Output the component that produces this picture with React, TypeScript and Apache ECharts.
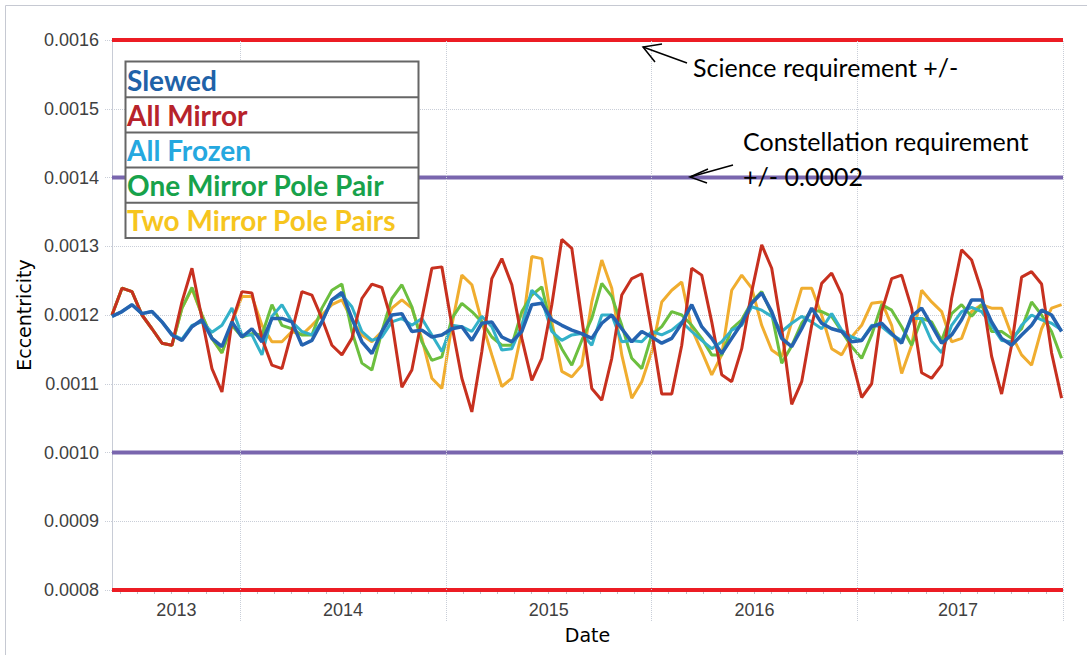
import React, { useEffect, useRef } from 'react';
import * as echarts from 'echarts';

// Sample grid (decimal years) – one reading roughly every 2.5 weeks
const START_YEAR = 2013.377;
const SAMPLE_STEP = 0.04859;

// Eccentricity values in units of 1e-4
const slewed = [
  11.98, 12.05, 12.15, 12.02, 12.05, 11.9, 11.71, 11.63, 11.83, 11.93, 11.66, 11.54, 11.9, 11.68, 11.8, 11.61, 11.95,
  11.95, 11.9, 11.56, 11.63, 11.9, 12.22, 12.33, 11.95, 11.61, 11.44, 11.76, 12.0, 12.02, 11.76, 11.78, 11.68,
  11.71, 11.8, 11.83, 11.63, 11.88, 11.9, 11.68, 11.61, 11.76, 12.15, 12.17, 11.93, 11.85, 11.78, 11.73, 11.66,
  11.88, 12.0, 11.8, 11.61, 11.76, 11.68, 11.59, 11.66, 11.88, 12.15, 11.83, 11.66, 11.44, 11.66, 11.88, 12.17,
  12.32, 12.05, 11.66, 11.54, 11.8, 12.1, 11.88, 11.8, 11.76, 11.61, 11.63, 11.83, 11.88, 11.73, 11.59, 11.98,
  12.1, 11.85, 11.59, 11.71, 11.93, 12.22, 12.22, 11.9, 11.66, 11.56, 11.71, 11.85, 12.07, 12.0, 11.76,
];
const allMirror = [
  12.0, 12.39, 12.34, 12.0, 11.8, 11.59, 11.56, 12.19, 12.68, 11.95, 11.22, 10.88, 11.9, 12.34, 12.32, 11.66, 11.27,
  11.22, 11.76, 12.34, 12.29, 11.95, 11.56, 11.42, 11.66, 12.24, 12.45, 12.4, 11.9, 10.95, 11.2, 11.95, 12.68,
  12.7, 11.85, 11.08, 10.59, 11.47, 12.53, 12.82, 12.44, 11.66, 11.05, 11.37, 12.15, 13.1, 12.97, 11.95, 10.93,
  10.76, 11.37, 12.29, 12.53, 12.6, 11.76, 10.85, 10.85, 11.56, 12.68, 12.58, 11.9, 11.13, 11.03, 11.51, 12.34,
  13.02, 12.68, 11.8, 10.7, 11.03, 11.85, 12.46, 12.61, 12.3, 11.37, 10.8, 11.0, 12.05, 12.53, 12.58, 12.1,
  11.16, 11.08, 11.27, 12.24, 12.95, 12.8, 12.35, 11.4, 10.85, 11.56, 12.55, 12.63, 12.45, 11.45, 10.79,
];
const allFrozen = [
  11.98, 12.05, 12.15, 12.02, 12.05, 11.9, 11.72, 11.65, 11.85, 11.9, 11.75, 11.85, 12.1, 11.71, 11.71, 11.42, 11.98,
  12.15, 11.9, 11.76, 11.71, 11.9, 12.22, 12.29, 12.12, 11.76, 11.63, 11.68, 11.9, 11.95, 11.85, 11.95, 11.71,
  11.47, 11.85, 11.83, 11.76, 11.98, 11.83, 11.49, 11.51, 11.85, 12.36, 12.22, 11.76, 11.63, 11.71, 11.73, 11.56,
  12.0, 12.0, 11.61, 11.63, 11.61, 11.76, 11.71, 11.78, 11.9, 11.76, 11.63, 11.51, 11.61, 11.78, 11.85, 12.12,
  12.07, 11.98, 11.76, 11.88, 11.98, 11.9, 11.8, 12.02, 11.78, 11.68, 11.63, 11.85, 11.83, 11.71, 11.63, 11.95,
  11.95, 11.62, 11.45, 11.85, 12.05, 12.11, 12.05, 11.85, 11.63, 11.61, 11.85, 12.0, 11.93, 11.88, 11.78,
];
const oneMirrorPolePair = [
  12.0, 12.39, 12.34, 12.0, 11.8, 11.59, 11.56, 12.1, 12.4, 12.0, 11.66, 11.45, 11.85, 11.68, 11.73, 11.71, 12.15,
  11.85, 11.8, 11.71, 11.71, 12.1, 12.36, 12.45, 11.76, 11.3, 11.2, 11.76, 12.24, 12.44, 12.12, 11.61, 11.34,
  11.39, 11.95, 12.17, 12.05, 11.9, 11.68, 11.56, 11.56, 12.05, 12.29, 12.41, 11.8, 11.51, 11.27, 11.63, 11.95,
  12.46, 12.27, 11.85, 11.37, 11.22, 11.71, 11.83, 12.05, 12.0, 11.85, 11.66, 11.42, 11.42, 11.8, 11.93, 12.19,
  12.34, 12.02, 11.3, 11.55, 11.88, 12.07, 12.05, 11.98, 11.76, 11.54, 11.37, 11.71, 12.15, 12.07, 11.83, 11.56,
  11.95, 11.9, 11.63, 12.02, 12.15, 11.98, 12.15, 11.76, 11.76, 11.66, 11.8, 12.19, 12.0, 11.76, 11.37,
];
const twoMirrorPolePairs = [
  12.0, 12.39, 12.34, 12.0, 11.8, 11.59, 11.56, 12.1, 12.38, 12.0, 11.66, 11.45, 11.9, 12.27, 12.27, 11.85, 11.61,
  11.61, 11.76, 11.71, 11.85, 12.0, 12.15, 12.22, 11.93, 11.71, 11.61, 11.76, 12.1, 12.22, 12.1, 11.66, 11.08,
  10.93, 11.85, 12.58, 12.44, 11.9, 11.42, 10.96, 11.08, 11.76, 12.85, 12.82, 11.9, 11.18, 11.1, 11.27, 12.19,
  12.8, 12.39, 11.42, 10.79, 11.03, 11.47, 12.19, 12.36, 12.48, 11.8, 11.47, 11.13, 11.42, 12.36, 12.58, 12.39,
  11.85, 11.49, 11.39, 11.9, 12.39, 12.39, 12.0, 11.51, 11.42, 11.68, 11.85, 12.17, 12.19, 11.85, 11.15, 11.56,
  12.36, 12.19, 12.05, 11.61, 11.66, 12.05, 12.15, 12.1, 12.1, 11.71, 11.42, 11.27, 11.8, 12.1, 12.15,
];

const legendNames = ['Slewed', 'All Mirror', 'All Frozen', 'One Mirror Pole Pair', 'Two Mirror Pole Pairs'];
const legendTextColors = ['#1F62A8', '#B7232B', '#25A8DF', '#17A24B', '#F6C51E'];

const yearLabels = ['2013', '2014', '2015', '2016', '2017'];
const yearLabelPositions = [2013.69, 2014.5, 2015.5, 2016.5, 2017.49];
const yearBoundaries = [2014, 2015, 2016, 2017, 2018];
const X_MIN = 2013.377;
const X_MAX = 2018.0;

const scienceLimits = [0.0016, 0.0008];
const constellationLimits = [0.0014, 0.001];

const monthTicks: number[] = [];
for (let y = 2013; y <= 2017; y++) {
  for (let m = 0; m < 12; m++) {
    const v = y + m / 12;
    if (v > X_MIN && v < X_MAX) monthTicks.push(v);
  }
}

const toPairs = (vals: number[]) => vals.map((v, i) => [START_YEAR + i * SAMPLE_STEP, v / 10000]);

export default function App() {
  const ref = useRef<HTMLDivElement>(null);
  useEffect(() => {
    if (!ref.current) return;
    const chart = echarts.init(ref.current, undefined, { renderer: 'svg' });
    const gridColor = '#c9ced8';
    const mkSeries = (name: string, vals: number[], color: string, z: number, width = 3): any => ({
      name,
      type: 'line',
      data: toPairs(vals),
      showSymbol: false,
      symbol: 'none',
      silent: true,
      z,
      lineStyle: { color, width },
      itemStyle: { color },
    });
    const limitSeries = (v: number, color: string): any => ({
      type: 'line',
      data: [
        [X_MIN, v],
        [X_MAX, v],
      ],
      symbol: 'none',
      showSymbol: false,
      silent: true,
      clip: false,
      z: 1,
      lineStyle: { color, width: 4 },
      itemStyle: { color },
    });
    const dataSeries = [
      mkSeries('Two Mirror Pole Pairs', twoMirrorPolePairs, '#F0AD2F', 2),
      mkSeries('One Mirror Pole Pair', oneMirrorPolePair, '#6CBF3F', 3),
      mkSeries('All Frozen', allFrozen, '#33B1C9', 4),
      mkSeries('All Mirror', allMirror, '#C7301F', 5),
      mkSeries('Slewed', slewed, '#2563B0', 6, 3.5),
    ];
    dataSeries[0].markLine = {
      silent: true,
      symbol: ['none', 'none'],
      label: { show: false },
      animation: false,
      data: yearBoundaries.map((x) => ({ xAxis: x, lineStyle: { color: gridColor, width: 1, type: 'dotted' } })),
    };

    const option: any = {
      animation: false,
      backgroundColor: '#ffffff',
      grid: { left: 112, right: 24, top: 40, bottom: 65 },
      legend: {
        orient: 'vertical',
        left: 122,
        top: 62,
        padding: 0,
        itemGap: 0,
        itemWidth: 0,
        itemHeight: 35,
        icon: 'none',
        selectedMode: false,
        z: 10,
        textStyle: { fontFamily: 'Lato', fontWeight: 'bold', fontSize: 28, lineHeight: 35 },
        data: legendNames.map((n, i) => ({ name: n, textStyle: { color: legendTextColors[i] } })),
      },
      xAxis: [
        {
          type: 'value',
          min: X_MIN,
          max: X_MAX,
          name: 'Date',
          nameLocation: 'middle',
          nameGap: 35,
          nameTextStyle: { fontFamily: 'DejaVu Sans', fontSize: 19, color: '#000' },
          axisLine: { show: false },
          axisTick: { show: true, customValues: monthTicks, length: 4, lineStyle: { color: '#b9bec8' } },
          axisLabel: {
            customValues: yearLabelPositions,
            margin: 11,
            fontFamily: 'Liberation Sans',
            fontSize: 18,
            color: '#404040',
            formatter: (v: number) => {
              const idx = yearLabelPositions.findIndex((p) => Math.abs(p - v) < 1e-6);
              return idx >= 0 ? yearLabels[idx] : '';
            },
          },
          splitLine: { show: false },
        },
        {
          type: 'value',
          min: X_MIN,
          max: X_MAX,
          position: 'bottom',
          axisLine: { show: false },
          axisLabel: { show: false },
          splitLine: { show: false },
          axisTick: { show: true, customValues: yearBoundaries, length: 32, lineStyle: { color: gridColor, type: 'dotted' } },
        },
      ],
      yAxis: {
        type: 'value',
        min: 0.0008,
        max: 0.0016,
        interval: 0.0001,
        name: 'Eccentricity',
        nameLocation: 'middle',
        nameGap: 72,
        nameTextStyle: { fontFamily: 'DejaVu Sans', fontSize: 19, color: '#000' },
        axisLine: { show: true, lineStyle: { color: '#c8ccd6' } },
        axisTick: { show: true, length: 7, lineStyle: { color: gridColor, type: 'dotted' } },
        axisLabel: {
          margin: 13,
          fontFamily: 'Liberation Sans',
          fontSize: 18,
          color: '#404040',
          formatter: (v: number) => v.toFixed(4),
        },
        splitLine: { show: true, lineStyle: { color: gridColor, type: 'dotted' } },
      },
      series: [
        ...scienceLimits.map((v) => limitSeries(v, '#EC1C24')),
        ...constellationLimits.map((v) => limitSeries(v, '#7966AE')),
        ...dataSeries,
      ],
      graphic: [
        {
          type: 'rect',
          z: -10,
          shape: { x: 5.5, y: 5.5, width: 1100, height: 700 },
          style: { fill: 'none', stroke: '#c6c9d2', lineWidth: 1 },
          silent: true,
        },
        {
          type: 'rect',
          z: 9,
          shape: { x: 125.5, y: 61.5, width: 293, height: 176.5 },
          style: { fill: '#ffffff', stroke: '#666666', lineWidth: 2 },
          silent: true,
        },
        ...[97.2, 132.5, 167.6, 202.7].map((y) => ({
          type: 'line',
          z: 9,
          shape: { x1: 125.5, y1: y, x2: 418.5, y2: y },
          style: { stroke: '#666666', lineWidth: 2 },
          silent: true,
        })),
        {
          type: 'text',
          z: 20,
          x: 693,
          y: 67,
          style: {
            text: 'Science requirement +/-',
            fill: '#000',
            font: '25px Lato',
            textAlign: 'left',
            textVerticalAlign: 'middle',
            align: 'left',
            verticalAlign: 'middle',
          },
        },
        {
          type: 'text',
          z: 20,
          x: 743,
          y: 141,
          style: {
            text: 'Constellation requirement',
            fill: '#000',
            font: '25px Lato',
            textAlign: 'left',
            textVerticalAlign: 'middle',
            align: 'left',
            verticalAlign: 'middle',
          },
        },
        {
          type: 'text',
          z: 20,
          x: 743,
          y: 176,
          style: {
            text: '+/- 0.0002',
            fill: '#000',
            font: '25px Lato',
            textAlign: 'left',
            textVerticalAlign: 'middle',
            align: 'left',
            verticalAlign: 'middle',
          },
        },
        {
          type: 'polyline',
          z: 20,
          shape: { points: [[687, 63], [643, 47]] },
          style: { stroke: '#000', lineWidth: 1.5, fill: 'none' },
        },
        {
          type: 'polyline',
          z: 20,
          shape: { points: [[662, 44], [643, 47], [655, 62]] },
          style: { stroke: '#000', lineWidth: 1.5, fill: 'none' },
        },
        {
          type: 'polyline',
          z: 20,
          shape: { points: [[733, 165], [690, 177]] },
          style: { stroke: '#000', lineWidth: 1.5, fill: 'none' },
        },
        {
          type: 'polyline',
          z: 20,
          shape: { points: [[708, 169], [690, 177], [707, 183]] },
          style: { stroke: '#000', lineWidth: 1.5, fill: 'none' },
        },
      ],
    };
    chart.setOption(option);
    return () => chart.dispose();
  }, []);
  return <div ref={ref} style={{ position: 'fixed', left: 0, top: 0, width: 1087, height: 655 }} />;
}
